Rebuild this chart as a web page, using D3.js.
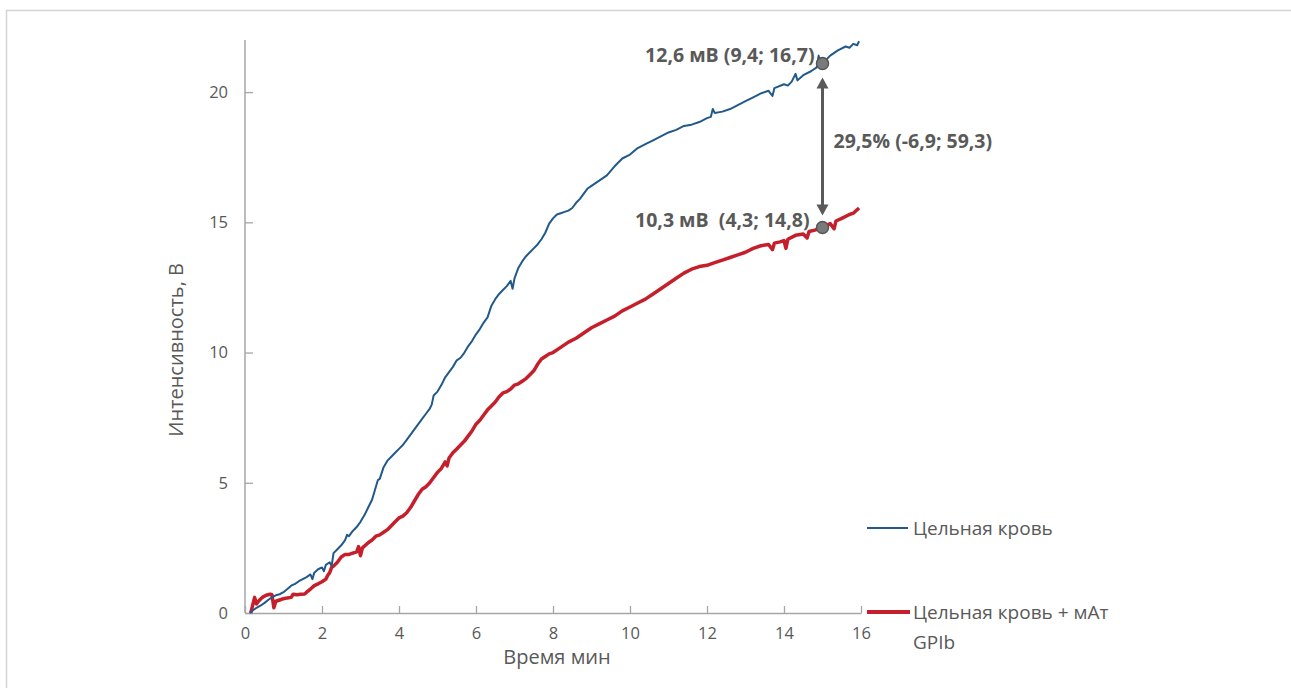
<!DOCTYPE html>
<html>
<head>
<meta charset="utf-8">
<script src="https://cdn.jsdelivr.net/npm/d3@7"></script>
<style>
  html, body { margin: 0; padding: 0; background: #fff; }
  svg { display: block; }
  text { font-family: "Open Sans", "Noto Sans", sans-serif; fill: #595959; }
</style>
</head>
<body>
<svg id="chart" width="1291" height="688"></svg>
<script>
// Time (min) and intensity (V) for whole blood
const wholeBloodT = [0.12,0.2,0.3,0.4,0.5,0.6,0.7,0.8,0.9,1.0,1.1,1.2,1.3,1.4,1.5,1.6,1.7,1.75,1.8,1.9,2.0,2.05,2.1,2.2,2.25,2.3,2.4,2.5,2.6,2.65,2.7,2.8,2.9,3.0,3.1,3.2,3.3,3.4,3.45,3.5,3.6,3.7,3.8,3.9,4.0,4.1,4.2,4.3,4.4,4.5,4.6,4.7,4.8,4.85,4.9,5.0,5.1,5.2,5.3,5.4,5.5,5.6,5.7,5.8,5.9,6.0,6.1,6.2,6.3,6.4,6.5,6.6,6.7,6.8,6.9,6.95,7.0,7.1,7.2,7.3,7.4,7.5,7.6,7.7,7.8,7.9,8.0,8.1,8.2,8.3,8.4,8.5,8.6,8.7,8.8,8.9,9.0,9.2,9.4,9.6,9.8,10.0,10.2,10.4,10.6,10.8,11.0,11.2,11.4,11.6,11.8,12.0,12.1,12.15,12.2,12.4,12.6,12.8,13.0,13.2,13.4,13.6,13.7,13.75,14.0,14.1,14.2,14.3,14.35,14.5,14.7,14.85,14.9,14.95,15.0,15.2,15.4,15.6,15.7,15.8,15.9,15.95];
const wholeBloodV = [0.0,0.1,0.2,0.28,0.38,0.5,0.6,0.68,0.72,0.8,0.92,1.05,1.12,1.22,1.3,1.38,1.48,1.3,1.55,1.68,1.75,1.6,1.85,1.95,1.8,2.3,2.45,2.6,2.8,3.0,2.95,3.15,3.3,3.5,3.75,4.05,4.35,4.85,5.1,5.15,5.6,5.85,6.0,6.15,6.3,6.45,6.65,6.85,7.05,7.25,7.45,7.65,7.85,8.0,8.35,8.5,8.75,9.05,9.25,9.45,9.7,9.8,10.0,10.25,10.45,10.7,10.9,11.15,11.35,11.8,12.05,12.25,12.4,12.55,12.75,12.45,12.85,13.25,13.5,13.7,13.85,14.0,14.15,14.35,14.6,14.95,15.15,15.3,15.35,15.4,15.45,15.55,15.75,15.9,16.1,16.3,16.4,16.6,16.8,17.15,17.45,17.6,17.85,18.0,18.15,18.3,18.45,18.55,18.7,18.75,18.85,19.0,19.05,19.35,19.2,19.25,19.35,19.5,19.65,19.8,19.95,20.05,19.85,20.15,20.3,20.25,20.4,20.7,20.45,20.65,20.8,20.95,21.4,21.05,21.1,21.4,21.6,21.75,21.7,21.85,21.8,21.95];

// Time (min) and intensity (V) for whole blood + anti-GPIb antibody
const antibodyT = [0.15,0.2,0.25,0.3,0.35,0.45,0.55,0.65,0.7,0.75,0.8,0.9,1.0,1.1,1.2,1.25,1.35,1.45,1.55,1.6,1.7,1.8,1.9,2.0,2.1,2.15,2.2,2.25,2.3,2.4,2.5,2.6,2.7,2.8,2.9,2.95,3.0,3.05,3.2,3.3,3.4,3.5,3.6,3.7,3.8,3.9,4.0,4.1,4.2,4.3,4.4,4.5,4.6,4.7,4.8,4.9,5.0,5.1,5.2,5.25,5.3,5.4,5.5,5.6,5.7,5.8,5.9,6.0,6.1,6.2,6.3,6.4,6.5,6.6,6.7,6.8,6.9,7.0,7.1,7.2,7.3,7.4,7.5,7.6,7.7,7.8,7.9,8.0,8.2,8.4,8.6,8.8,9.0,9.2,9.4,9.6,9.8,10.0,10.2,10.4,10.6,10.8,11.0,11.2,11.4,11.6,11.8,12.0,12.2,12.4,12.6,12.8,13.0,13.2,13.4,13.6,13.7,13.75,13.9,14.0,14.05,14.1,14.3,14.5,14.6,14.65,14.8,15.0,15.2,15.3,15.35,15.5,15.7,15.8,15.95];
const antibodyV = [0.0,0.3,0.6,0.35,0.45,0.6,0.68,0.72,0.7,0.2,0.45,0.5,0.55,0.58,0.6,0.72,0.7,0.72,0.73,0.8,0.92,1.05,1.12,1.2,1.3,1.45,1.55,1.75,1.8,1.95,2.15,2.25,2.25,2.3,2.35,2.55,2.2,2.5,2.7,2.8,2.95,3.0,3.1,3.2,3.35,3.5,3.65,3.72,3.85,4.05,4.3,4.55,4.75,4.85,5.0,5.2,5.4,5.55,5.8,5.65,5.95,6.15,6.3,6.45,6.6,6.8,7.0,7.25,7.4,7.6,7.8,7.95,8.1,8.3,8.45,8.5,8.6,8.75,8.8,8.9,9.0,9.15,9.3,9.55,9.75,9.85,9.95,10.0,10.2,10.4,10.55,10.75,10.95,11.1,11.25,11.4,11.6,11.75,11.9,12.05,12.25,12.45,12.65,12.85,13.05,13.2,13.3,13.35,13.45,13.55,13.65,13.75,13.85,14.0,14.1,14.15,13.95,14.2,14.25,14.3,14.0,14.35,14.5,14.55,14.4,14.65,14.7,14.8,14.95,14.75,15.05,15.15,15.3,15.35,15.55];

const seriesNames = ["Цельная кровь", "Цельная кровь + мАт GPIb"];
const xTicks = [0, 2, 4, 6, 8, 10, 12, 14, 16];
const yTicks = [0, 5, 10, 15, 20];
const xTitle = "Время мин";
const yTitle = "Интенсивность, В";

// Marked readings at 15 min with their labels
const markTime = 15;
const markValues = [21.1, 14.8];
const markLabels = ["12,6 мВ (9,4; 16,7)", "10,3 мВ  (4,3; 14,8)"];
const diffLabel = "29,5% (-6,9; 59,3)";

const blue = "#215a8a";
const red = "#c51f2b";
const axisGrey = "#a6a6a6";

const svg = d3.select("#chart");

// outer frame
svg.append("rect")
  .attr("x", 6.5).attr("y", 10.5)
  .attr("width", 1300).attr("height", 700)
  .attr("fill", "none").attr("stroke", "#d4d4d4").attr("stroke-width", 1.5);

const x = d3.scaleLinear().domain([0, 16]).range([245, 861]);
const y = d3.scaleLinear().domain([0, 22]).range([613, 40]);

// axes
const xAxis = svg.append("g").attr("transform", `translate(0,${y(0)})`)
  .call(d3.axisBottom(x).tickValues(xTicks).tickSizeInner(-7).tickSizeOuter(0).tickPadding(14));
const yAxis = svg.append("g").attr("transform", `translate(${x(0)},0)`)
  .call(d3.axisLeft(y).tickValues(yTicks).tickSizeInner(-8).tickSizeOuter(0).tickPadding(17));

[xAxis, yAxis].forEach(g => {
  g.select(".domain").attr("stroke", axisGrey).attr("stroke-width", 1.5);
  g.selectAll(".tick line").attr("stroke", axisGrey).attr("stroke-width", 1.3);
  g.selectAll(".tick text").attr("fill", "#595959").style("font-size", "16.5px")
    .style("font-family", "'Open Sans', sans-serif");
});
// y axis line runs up to the top of the value range
yAxis.select(".domain").attr("d", `M0,${y(0)}V${y(22)}`);

svg.append("text")
  .attr("x", 557).attr("y", 664)
  .attr("text-anchor", "middle")
  .style("font-size", "20px")
  .text(xTitle);

svg.append("text")
  .attr("transform", `translate(183,${y(10.1)}) rotate(-90)`)
  .attr("text-anchor", "middle")
  .style("font-size", "20px")
  .text(yTitle);

// curves
const line = d3.line().x(d => x(d[0])).y(d => y(d[1]));
const wholeBlood = wholeBloodT.map((t, i) => [t, wholeBloodV[i]]);
const antibody = antibodyT.map((t, i) => [t, antibodyV[i]]);

svg.append("path").datum(antibody)
  .attr("d", line).attr("fill", "none")
  .attr("stroke", red).attr("stroke-width", 3.5)
  .attr("stroke-linejoin", "round");

svg.append("path").datum(wholeBlood)
  .attr("d", line).attr("fill", "none")
  .attr("stroke", blue).attr("stroke-width", 2)
  .attr("stroke-linejoin", "round");

// difference arrow between the two readings
const arrowX = x(markTime);
const arrowTop = y(markValues[0]) + 14;
const arrowBot = y(markValues[1]) - 12;
const head = 6, headLen = 11;
svg.append("line")
  .attr("x1", arrowX).attr("x2", arrowX)
  .attr("y1", arrowTop + headLen - 2).attr("y2", arrowBot - headLen + 2)
  .attr("stroke", "#595959").attr("stroke-width", 3);
svg.append("path")
  .attr("d", `M${arrowX},${arrowTop}L${arrowX - head},${arrowTop + headLen}L${arrowX + head},${arrowTop + headLen}Z`)
  .attr("fill", "#595959");
svg.append("path")
  .attr("d", `M${arrowX},${arrowBot}L${arrowX - head},${arrowBot - headLen}L${arrowX + head},${arrowBot - headLen}Z`)
  .attr("fill", "#595959");

// markers
svg.selectAll("circle.mark").data(markValues).enter().append("circle")
  .attr("class", "mark")
  .attr("cx", x(markTime)).attr("cy", d => y(d)).attr("r", 6)
  .attr("fill", "#7a7a7a").attr("stroke", "#555").attr("stroke-width", 1.5);

// reading labels
svg.append("text")
  .attr("x", x(markTime) - 8).attr("y", y(markValues[0]) - 1)
  .attr("text-anchor", "end")
  .style("font-size", "19.5px").style("font-weight", "bold")
  .text(markLabels[0]);
svg.append("text")
  .attr("x", x(markTime) - 13).attr("y", y(markValues[1]) - 1)
  .attr("text-anchor", "end")
  .style("font-size", "19.5px").style("font-weight", "bold")
  .style("white-space", "pre")
  .text(markLabels[1]);
svg.append("text")
  .attr("x", x(markTime) + 11).attr("y", 148)
  .style("font-size", "19.5px").style("font-weight", "bold")
  .text(diffLabel);

// legend
const legend = svg.append("g");
legend.append("line").attr("x1", 867).attr("x2", 908).attr("y1", 528).attr("y2", 528)
  .attr("stroke", blue).attr("stroke-width", 2);
legend.append("text").attr("x", 913).attr("y", 535)
  .style("font-size", "19px").text(seriesNames[0]);

legend.append("line").attr("x1", 867).attr("x2", 910).attr("y1", 612).attr("y2", 612)
  .attr("stroke", red).attr("stroke-width", 4);
const lt = legend.append("text").attr("x", 913).attr("y", 619).style("font-size", "19px");
lt.append("tspan").attr("x", 913).text("Цельная кровь + мАт");
lt.append("tspan").attr("x", 913).attr("dy", 30).text("GPIb");
</script>
</body>
</html>
